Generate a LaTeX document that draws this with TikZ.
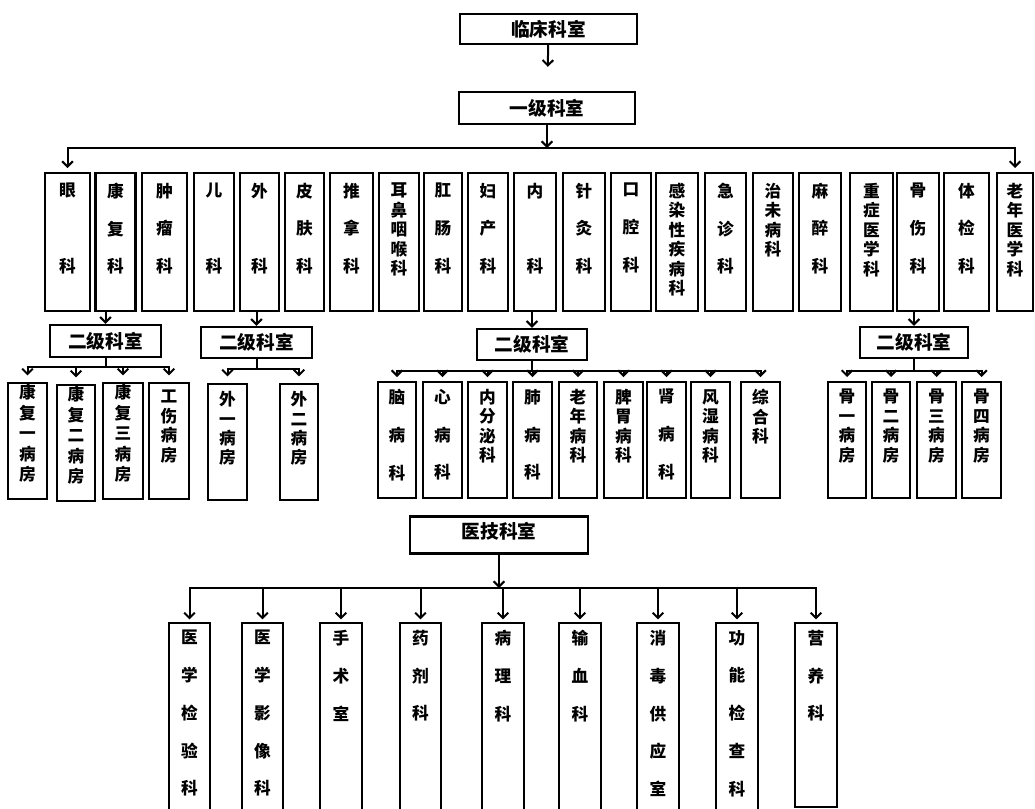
\documentclass[tikz,border=0pt]{standalone}
\usepackage{fontspec}
\setmainfont{Noto Sans CJK SC}
\usetikzlibrary{arrows.meta}

\newdimen\px \px=0.75pt
\newcommand{\colfont}{\bfseries\fontsize{12.5}{14.6}\selectfont}
\newcommand{\widefont}{\bfseries\fontsize{12.5}{28.3}\selectfont}
\newcommand{\headfont}{\bfseries\fontsize{14}{16}\selectfont}

\begin{document}
\begin{tikzpicture}[x=0.75pt,y=-0.75pt]

%
% Styles
%
\tikzset{
  box/.style   = {draw, line width=1.8pt, inner sep=0pt},
  head/.style  = {box, font=\headfont},
  row1/.style  = {box, anchor=north, minimum width=#1\px, minimum height=138\px},
  row2/.style  = {box, anchor=north, minimum width=#1\px, minimum height=116\px},
  row3/.style  = {box, anchor=north, minimum width=#1\px, minimum height=195\px},
  txt/.style   = {anchor=north, align=center, inner sep=0pt, font=\colfont},
  wtxt/.style  = {txt, font=\widefont},
  t1/.style    = {label={[txt,yshift=-8pt]north:{#1}}},
  w1/.style    = {label={[wtxt,yshift=-8pt]north:{#1}}},
  t2/.style    = {label={[txt,yshift=-6pt]north:{#1}}},
  w2/.style    = {label={[wtxt,yshift=-6pt]north:{#1}}},
  k2/.style    = {label={[txt,yshift=-1.5pt,font=\bfseries\fontsize{12.5}{15.4}\selectfont]north:{#1}}},
  w3/.style    = {label={[wtxt,yshift=-6pt]north:{#1}}},
  link/.style  = {line width=1.5pt},
  bus/.style   = {link, line cap=rect},
  arrow/.style = {link, -{Straight Barb[length=4pt,width=8pt]}},
}

\useasboundingbox (0,0) rectangle (1035,808);

% first level
\node[head, minimum width=177\px, minimum height=30\px] (clinic) at (548.5,29) {临床科室};
\node[head, minimum width=176\px, minimum height=32\px] (level1) at (547,108) {一级科室};

% clinical departments
\node[row1=45, w1={眼\\[28.5pt]科}] (yan) at (67.5,172) {};
\node[row1=40, w1={康\\复\\科}] (kangfu) at (115.5,172) {};
\node[row1=45, w1={肿\\瘤\\科}] (zhongliu) at (164.5,172) {};
\node[row1=40, w1={儿\\[28.5pt]科}] (er) at (214,172) {};
\node[row1=39, w1={外\\[28.5pt]科}] (wai) at (259.5,172) {};
\node[row1=39, w1={皮\\肤\\科}] (pifu) at (304.5,172) {};
\node[row1=43, w1={推\\拿\\科}] (tuina) at (351.5,172) {};
\node[row1=40, t1={耳\\鼻\\咽\\喉\\科}] (erbi) at (399,172) {};
\node[row1=38, w1={肛\\肠\\科}] (gangchang) at (443,172) {};
\node[row1=40, w1={妇\\产\\科}] (fuchan) at (488,172) {};
\node[row1=42, w1={内\\[28.5pt]科}] (nei) at (535,172) {};
\node[row1=42, w1={针\\灸\\科}] (zhenjiu) at (584,172) {};
\node[row1=40, w1={口\\腔\\科}] (kouqiang) at (631,172) {};
\node[row1=42, t1={感\\染\\性\\疾\\病\\科}] (ganran) at (677,172) {};
\node[row1=41, w1={急\\诊\\科}] (jizhen) at (725.5,172) {};
\node[row1=40, t1={治\\未\\病\\科}] (zhiwei) at (773,172) {};
\node[row1=42, w1={麻\\醉\\科}] (mazui) at (820,172) {};
\node[row1=43, t1={重\\症\\医\\学\\科}] (zhongzheng) at (871.5,172) {};
\node[row1=42, w1={骨\\伤\\科}] (gushang) at (918,172) {};
\node[row1=45, w1={体\\检\\科}] (tijian) at (966.5,172) {};
\node[row1=36, t1={老\\年\\医\\学\\科}] (laonian) at (1015,172) {};

% second level
\node[head, minimum width=111\px, minimum height=32\px] (erjiK) at (105.5,341) {二级科室};
\node[head, minimum width=111\px, minimum height=31\px] (erjiW) at (256.5,342.5) {二级科室};
\node[head, minimum width=110\px, minimum height=31\px] (erjiN) at (532,344.5) {二级科室};
\node[head, minimum width=108\px, minimum height=31\px] (erjiG) at (914,342.5) {二级科室};

\node[row2=39, k2={康\\复\\一\\病\\房}] (kf1) at (27.5,382) {};
\node[row2=38, k2={康\\复\\二\\病\\房}] (kf2) at (76,384) {};
\node[row2=40, k2={康\\复\\三\\病\\房}] (kf3) at (123,382) {};
\node[row2=40, t2={工\\伤\\病\\房}] (gs) at (169,382) {};

\node[row2=39, t2={外\\一\\病\\房}] (wai1) at (227.5,383) {};
\node[row2=38, t2={外\\二\\病\\房}] (wai2) at (299,383) {};

\node[row2=38, w2={脑\\病\\科}] (nao) at (397,381) {};
\node[row2=39, w2={心\\病\\科}] (xin) at (442.5,381) {};
\node[row2=39, t2={内\\分\\泌\\科}] (neifen) at (487.5,381) {};
\node[row2=39, w2={肺\\病\\科}] (fei) at (532.5,381) {};
\node[row2=38, t2={老\\年\\病\\科}] (laonb) at (578,381) {};
\node[row2=39, t2={脾\\胃\\病\\科}] (piwei) at (623.5,381) {};
\node[row2=39, w2={肾\\病\\科}] (shen) at (666.5,381) {};
\node[row2=39, t2={风\\湿\\病\\科}] (fengshi) at (710.5,381) {};
\node[row2=39, t2={综\\合\\科}] (zonghe) at (760.5,381) {};

\node[row2=38, t2={骨\\一\\病\\房}] (gu1) at (847,381) {};
\node[row2=38, t2={骨\\二\\病\\房}] (gu2) at (891,381) {};
\node[row2=39, t2={骨\\三\\病\\房}] (gu3) at (936.5,381) {};
\node[row2=39, t2={骨\\四\\病\\房}] (gu4) at (981.5,381) {};

% medical technology departments
\node[head, minimum width=178\px, minimum height=37\px, text depth=7pt] (medtech) at (499,535) {医技科室};

\node[row3=41, w3={医\\学\\检\\验\\科}] (jianyan) at (189.5,622) {};
\node[row3=41, w3={医\\学\\影\\像\\科}] (yingxiang) at (262.5,622) {};
\node[row3=42, w3={手\\术\\室}] (shoushu) at (341,622) {};
\node[row3=41, w3={药\\剂\\科}] (yaoji) at (420.5,622) {};
\node[row3=42, w3={病\\理\\科}] (bingli) at (503,622) {};
\node[row3=42, w3={输\\血\\科}] (shuxue) at (580,622) {};
\node[row3=42, w3={消\\毒\\供\\应\\室}] (xiaodu) at (658,622) {};
\node[row3=42, w3={功\\能\\检\\查\\科}] (gongneng) at (737,622) {};
\node[row3=42, w3={营\\养\\科}, minimum height=184\px] (yingyang) at (816,622) {};

% connectors, clinical
\coordinate (bus1) at (547,148);
\draw[arrow, shorten >=18pt] (clinic) -- (level1);
\draw[arrow] (level1) -- (bus1);
\draw[bus] (yan.north |- bus1) -- (laonian.north |- bus1);
\draw[arrow, shorten >=3pt] (yan.north |- bus1) -- (yan);
\draw[arrow, shorten >=3pt] (laonian.north |- bus1) -- (laonian);

\coordinate (busK) at (105.5,367);
\draw[arrow] (kangfu.south -| erjiK) -- (erjiK);
\draw[link] (erjiK) -- (busK);
\draw[bus] (kf1.north |- busK) -- (gs.north |- busK);
\foreach \n in {kf1,kf2,kf3,gs}
  \draw[arrow, shorten >=5pt] (\n.north |- busK) -- (\n);

\coordinate (busW) at (256.5,369);
\draw[arrow] (wai.south -| erjiW) -- (erjiW);
\draw[link] (erjiW) -- (busW);
\draw[bus] (wai1.north |- busW) -- (wai2.north |- busW);
\foreach \n in {wai1,wai2}
  \draw[arrow, shorten >=5pt] (\n.north |- busW) -- (\n);

\coordinate (busN) at (532,371);
\draw[arrow] (nei.south -| erjiN) -- (erjiN);
\draw[link] (erjiN) -- (busN);
\draw[bus] (nao.north |- busN) -- (zonghe.north |- busN);
\foreach \n in {nao,xin,neifen,fei,laonb,piwei,shen,fengshi,zonghe}
  \draw[arrow, shorten >=3pt] (\n.north |- busN) -- (\n);

\coordinate (busG) at (914,371);
\draw[arrow] (gushang.south -| erjiG) -- (erjiG);
\draw[link] (erjiG) -- (busG);
\draw[bus] (gu1.north |- busG) -- (gu4.north |- busG);
\foreach \n in {gu1,gu2,gu3,gu4}
  \draw[arrow, shorten >=3pt] (\n.north |- busG) -- (\n);

% connectors, medical technology
\coordinate (bus3) at (499,588);
\draw[arrow] (medtech) -- (bus3);
\draw[bus] (jianyan.north |- bus3) -- (yingyang.north |- bus3);
\foreach \n in {jianyan,yingxiang,shoushu,yaoji,bingli,shuxue,xiaodu,gongneng,yingyang}
  \draw[arrow, shorten >=2pt] (\n.north |- bus3) -- (\n);

\end{tikzpicture}
\end{document}
